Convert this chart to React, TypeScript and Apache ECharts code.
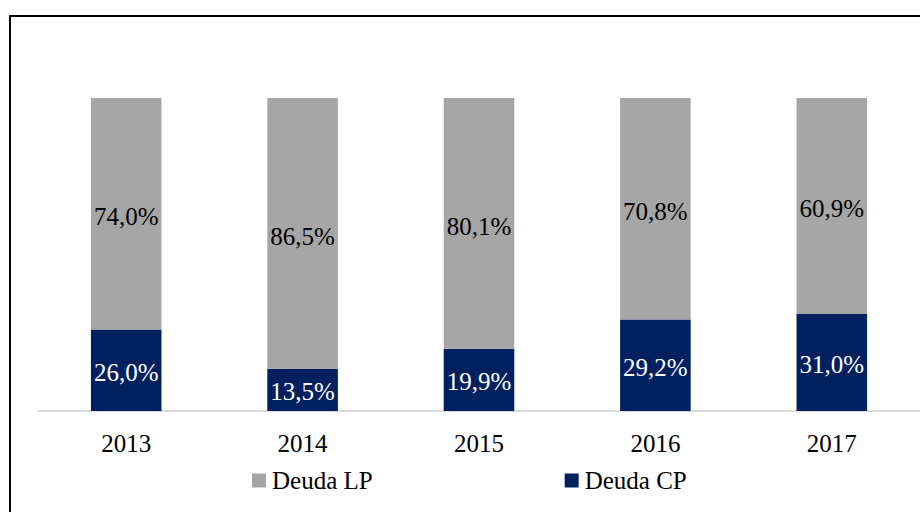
import React, { useEffect, useRef } from "react";
import * as echarts from "echarts";

const years = ["2013", "2014", "2015", "2016", "2017"];
// Deuda CP share (bar heights and labels)
const deudaCP = [26.0, 13.5, 19.9, 29.2, 31.0];
// Deuda LP bar heights as drawn (the 2017 bar fills to 100%)
const deudaLPBar = [74.0, 86.5, 80.1, 70.8, 69.0];
// Deuda LP labels as printed
const deudaLPLabel = [74.0, 86.5, 80.1, 70.8, 60.9];

const fmt = (v: number) => v.toFixed(1).replace(".", ",") + "%";
const FONT = "Liberation Serif, serif";

export default function App() {
  const ref = useRef<HTMLDivElement>(null);
  useEffect(() => {
    if (!ref.current) return;
    const chart = echarts.init(ref.current, null, { renderer: "svg" });
    chart.setOption({
      animation: false,
      backgroundColor: "#ffffff",
      textStyle: { fontFamily: FONT },
      graphic: [
        {
          type: "rect",
          shape: { x: 10, y: 16, width: 940, height: 520 },
          style: { fill: "none", stroke: "#000000", lineWidth: 2 },
          silent: true,
        },
      ],
      grid: { left: 38, right: 0, top: 98, bottom: 101, containLabel: false },
      legend: {
        left: 247,
        top: 463,
        itemWidth: 14,
        itemHeight: 14,
        itemGap: 192,
        icon: "rect",
        textStyle: { fontFamily: FONT, fontSize: 25, color: "#000000", padding: [0, 0, 0, 1] },
        data: ["Deuda LP", "Deuda CP"],
      },
      xAxis: {
        type: "category",
        data: years,
        axisLine: { show: true, lineStyle: { color: "#D9D9D9", width: 2 } },
        axisTick: { show: false },
        axisLabel: { fontFamily: FONT, fontSize: 25, color: "#000000", margin: 20 },
      },
      yAxis: {
        type: "value",
        min: 0,
        max: 100,
        show: false,
        splitLine: { show: false },
      },
      series: [
        {
          name: "Deuda CP",
          type: "bar",
          stack: "total",
          data: deudaCP,
          barWidth: "40%",
          itemStyle: { color: "#002060" },
          label: {
            show: true,
            position: "inside",
            offset: [0, 2],
            formatter: (p: any) => fmt(deudaCP[p.dataIndex]),
            fontFamily: FONT,
            fontSize: 25,
            color: "#ffffff",
          },
        },
        {
          name: "Deuda LP",
          type: "bar",
          stack: "total",
          data: deudaLPBar,
          barWidth: "40%",
          itemStyle: { color: "#A6A6A6" },
          label: {
            show: true,
            position: "inside",
            offset: [0, 3],
            formatter: (p: any) => fmt(deudaLPLabel[p.dataIndex]),
            fontFamily: FONT,
            fontSize: 25,
            color: "#000000",
          },
        },
      ],
    });
    return () => chart.dispose();
  }, []);
  return (
    <div
      ref={ref}
      style={{ position: "fixed", left: 0, top: 0, width: 920, height: 512 }}
    />
  );
}
